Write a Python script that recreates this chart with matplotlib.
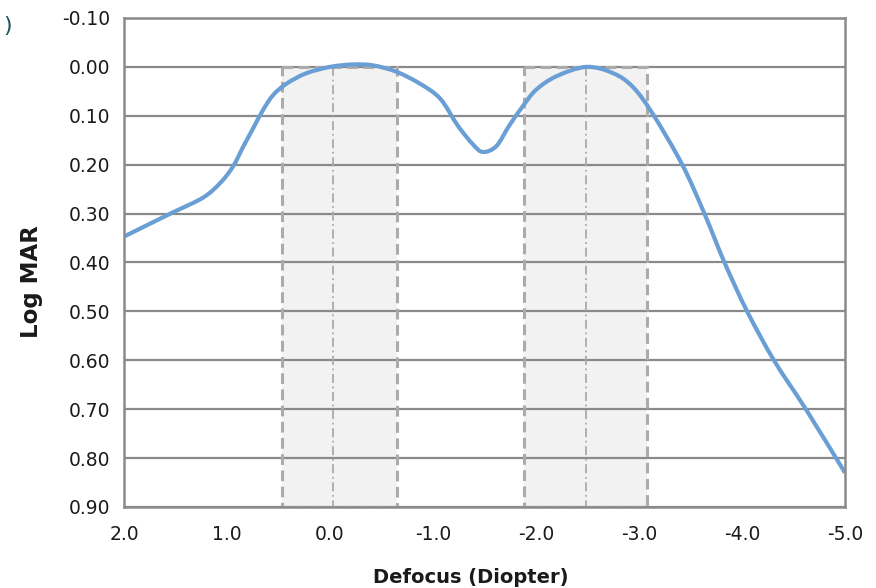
import matplotlib
matplotlib.use("Agg")
import matplotlib.pyplot as plt
from matplotlib.patches import Rectangle, PathPatch
from matplotlib.path import Path

# defocus curve
defocus = [2.0, 1.78, 1.52, 1.23, 1.06, 0.94, 0.84, 0.745, 0.65, 0.55, 0.42,
           0.23, 0.0, -0.22, -0.42, -0.645, -0.87, -1.07, -1.24, -1.39, -1.485,
           -1.615, -1.74, -1.87, -2.0, -2.2, -2.49, -2.75, -2.94, -3.13,
           -3.42, -3.635, -3.83, -4.05, -4.31, -4.62, -5.0]
logmar = [0.347, 0.324, 0.297, 0.267, 0.236, 0.203, 0.162, 0.125, 0.088, 0.057,
          0.034, 0.013, 0.0, -0.005, -0.003, 0.01, 0.034, 0.065, 0.12, 0.159,
          0.174, 0.162, 0.12, 0.081, 0.047, 0.019, 0.0, 0.013, 0.041, 0.095,
          0.20, 0.30, 0.40, 0.50, 0.60, 0.70, 0.83]

# shaded focus ranges (left edge, right edge, centre line)
range_left = [0.47, -1.88]
range_right = [-0.65, -3.08]
range_centre = [-0.03, -2.49]
range_top = 0.0
range_bottom = 0.9

x_ticks = [2.0, 1.0, 0.0, -1.0, -2.0, -3.0, -4.0, -5.0]
y_ticks = [-0.10, 0.00, 0.10, 0.20, 0.30, 0.40, 0.50, 0.60, 0.70, 0.80, 0.90]


def smooth_path(xs, ys, tension=1 / 6):
    # excel style smoothed line: catmull-rom segments as cubic beziers
    verts = [(xs[0], ys[0])]
    codes = [Path.MOVETO]
    n = len(xs)
    for i in range(n - 1):
        x0, y0 = xs[max(i - 1, 0)], ys[max(i - 1, 0)]
        x1, y1 = xs[i], ys[i]
        x2, y2 = xs[i + 1], ys[i + 1]
        x3, y3 = xs[min(i + 2, n - 1)], ys[min(i + 2, n - 1)]
        c1 = (x1 + (x2 - x0) * tension, y1 + (y2 - y0) * tension)
        c2 = (x2 - (x3 - x1) * tension, y2 - (y3 - y1) * tension)
        verts += [c1, c2, (x2, y2)]
        codes += [Path.CURVE4] * 3
    return Path(verts, codes)


plt.rcParams["font.family"] = ["DejaVu Sans"]

fig = plt.figure(figsize=(8.76, 5.88), dpi=100)
ax = fig.add_axes([0.1416, 0.1378, 0.8230, 0.8316])

grid_col = "#8a8a8a"
box_col = "#ababab"

for left, right, mid in zip(range_left, range_right, range_centre):
    ax.add_patch(Rectangle((left, range_top), right - left, range_bottom - range_top,
                           facecolor="#f2f2f2", edgecolor="none", zorder=0))
    ax.add_patch(Rectangle((left, range_top), right - left, range_bottom - range_top,
                           facecolor="none", edgecolor=box_col, linewidth=2.2,
                           linestyle=(0, (3.5, 1.8)), zorder=3))
    ax.plot([mid, mid], [range_top, range_bottom], color=box_col, linewidth=1.3,
            linestyle=(0, (5, 2, 1, 2)), zorder=3)

for yv in y_ticks:
    ax.axhline(yv, color=grid_col, linewidth=1.6, zorder=1)

ax.add_patch(PathPatch(smooth_path(defocus, logmar), facecolor="none",
                       edgecolor="#6a9fd5", linewidth=3.0, zorder=4,
                       capstyle="butt", joinstyle="round"))

ax.set_xlim(2.0, -5.0)
ax.set_ylim(0.90, -0.10)
ax.set_xticks(x_ticks)
ax.set_xticklabels([f"{v:.1f}" for v in x_ticks])
ax.set_yticks(y_ticks)
ax.set_yticklabels([f"{v:.2f}" for v in y_ticks])
ax.tick_params(length=0, labelsize=13.5, labelcolor="#1a1a1a")
ax.tick_params(axis="x", pad=13)
ax.tick_params(axis="y", pad=10)

for s in ax.spines.values():
    s.set_color(grid_col)
    s.set_linewidth(1.8)
    s.set_zorder(5)

ax.set_xlabel("Defocus (Diopter)", fontsize=14, fontweight="bold",
              color="#1a1a1a", va="center")
ax.xaxis.set_label_coords(0.481, -0.145)
ax.set_ylabel("Log MAR", fontsize=16.5, fontweight="bold", color="#1a1a1a")
ax.yaxis.set_label_coords(-0.112, 0.46)

fig.text(0.004, 0.955, ")", fontsize=16, color="#1f4f5c",
         va="center", ha="left")

fig.savefig("out.png", dpi=100)
